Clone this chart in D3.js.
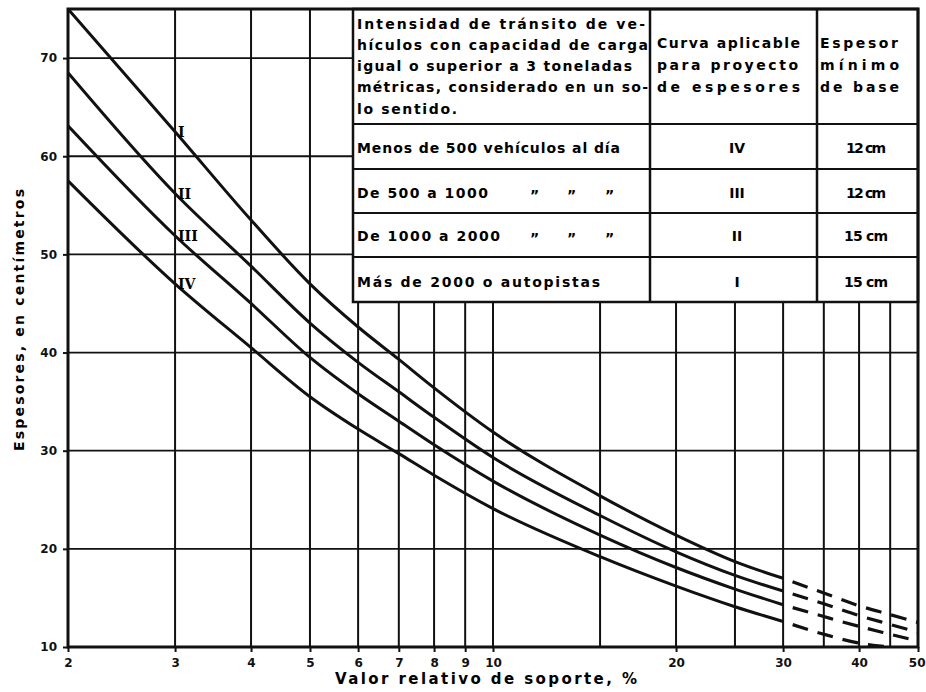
<!DOCTYPE html>
<html lang="es">
<head>
<meta charset="UTF-8">
<title>Espesores de base</title>
<script src="https://cdnjs.cloudflare.com/ajax/libs/d3/7.8.5/d3.min.js"></script>
<style>
  body { margin: 0; background: #fff; }
  svg { display: block; font-family: "DejaVu Sans", sans-serif; font-weight: bold; }
</style>
</head>
<body>
<div id="chart"></div>
<script>
// valores (VRS en %, espesor en cm)
const vrs = [2, 3, 4, 5, 6, 7, 8, 10, 15, 20, 25, 30];
const curvaI = [75, 62.5, 53.5, 47, 42.6, 39.3, 36.4, 31.9, 25.4, 21.4, 18.7, 17.0];
const curvaII = [68.5, 56.2, 48.8, 43.0, 39.0, 36.0, 33.4, 29.3, 23.4, 19.7, 17.3, 15.7];
const curvaIII = [63.1, 51.9, 45.0, 39.5, 35.8, 33.0, 30.6, 26.9, 21.4, 18.1, 15.9, 14.3];
const curvaIV = [57.5, 47.0, 40.5, 35.5, 32.2, 29.7, 27.5, 24.1, 19.2, 16.2, 14.1, 12.6];

// tramo punteado
const vrsExt = [30, 35, 40, 45, 50];
const extI = [17.0, 15.5, 14.2, 13.3, 12.5];
const extII = [15.7, 14.4, 13.2, 12.3, 11.5];
const extIII = [14.3, 13.1, 12.1, 11.3, 10.6];
const extIV = [12.6, 11.3, 10.4, 10.0];

const nombres = ["I", "II", "III", "IV"];

const xTicks = [2, 3, 4, 5, 6, 7, 8, 9, 10, 20, 30, 40, 50];
const xGrid = [3, 4, 5, 6, 7, 8, 9, 10, 15, 20, 25, 30, 35, 40, 45];
const yTicks = [10, 20, 30, 40, 50, 60, 70];

// tabla
const encabezado1 = ["Intensidad de tránsito de ve-", "hículos con capacidad de carga",
  "igual o superior a 3 toneladas", "métricas, considerado en un so-", "lo sentido."];
const encabezado2 = ["Curva aplicable", "para proyecto", "de espesores"];
const encabezado3 = ["Espesor", "mínimo", "de base"];
const transito = ["Menos de 500 vehículos al día", "De 500 a 1000", "De 1000 a 2000", "Más de 2000 o autopistas"];
const curvaAplicable = ["IV", "III", "II", "I"];
const espesorMinimo = ["12 cm", "12 cm", "15 cm", "15 cm"];

const width = 926, height = 692;
const mLeft = 68, mRight = 918, mTop = 9, mBottom = 647;

const x = d3.scaleLog().domain([2, 50]).range([mLeft, mRight]);
const y = d3.scaleLinear().domain([10, 75]).range([mBottom, mTop]);

const svg = d3.select("#chart").append("svg")
    .attr("width", width)
    .attr("height", height);

svg.append("clipPath").attr("id", "plot")
  .append("rect").attr("x", mLeft).attr("y", mTop).attr("width", mRight - mLeft).attr("height", mBottom - mTop);

// reticula
svg.append("g").selectAll("line")
  .data(xGrid).enter().append("line")
    .attr("x1", d => x(d)).attr("x2", d => x(d))
    .attr("y1", mTop).attr("y2", mBottom)
    .attr("stroke", "#111").attr("stroke-width", 2);

svg.append("g").selectAll("line")
  .data(yTicks.slice(1)).enter().append("line")
    .attr("x1", mLeft).attr("x2", mRight)
    .attr("y1", d => y(d)).attr("y2", d => y(d))
    .attr("stroke", "#111").attr("stroke-width", 1.8);

// tabla sobre la reticula
const tL = 353, tR = mRight, tT = mTop, c1 = 650, c2 = 817;
const filas = [124, 169, 213, 257, 302];
const tabla = svg.append("g");
tabla.append("rect")
    .attr("x", tL).attr("y", tT).attr("width", tR - tL).attr("height", filas[4] - tT)
    .attr("fill", "#fff").attr("stroke", "#111").attr("stroke-width", 2.5);
tabla.selectAll("line.h").data(filas.slice(0, 4)).enter().append("line")
    .attr("x1", tL).attr("x2", tR).attr("y1", d => d).attr("y2", d => d)
    .attr("stroke", "#111").attr("stroke-width", 2);
tabla.selectAll("line.v").data([c1, c2]).enter().append("line")
    .attr("x1", d => d).attr("x2", d => d).attr("y1", tT).attr("y2", filas[4])
    .attr("stroke", "#111").attr("stroke-width", 2.5);

function linea(g, txt, px, py, len, anchor) {
  const t = g.append("text")
    .attr("x", px).attr("y", py)
    .attr("font-size", 14)
    .attr("text-anchor", anchor || "start")
    .text(txt);
  if (len) t.attr("textLength", len).attr("lengthAdjust", "spacing");
  return t;
}

const base1 = [29, 50, 71, 92, 114];
const largo1 = [288, 291, 275, 291, 100];
encabezado1.forEach((s, i) => linea(tabla, s, 357, base1[i], largo1[i]));
const largo2 = [143, 141, 143];
encabezado2.forEach((s, i) => linea(tabla, s, 657, [48, 70, 92][i], largo2[i]));
const largo3 = [78, 79, 79];
encabezado3.forEach((s, i) => linea(tabla, s, 820, [48, 70, 92][i], largo3[i]));

const baseFila = [153, 198, 241, 287];
const largoFila = [263, 131, 143, 243];
transito.forEach((s, i) => linea(tabla, s, 357, baseFila[i], largoFila[i]));
[1, 2].forEach(i => [530, 567, 605].forEach(px => linea(tabla, "\u201D", px, baseFila[i] + 2)));
curvaAplicable.forEach((s, i) => linea(tabla, s, 737, baseFila[i], null, "middle"));
espesorMinimo.forEach((s, i) => linea(tabla, s, 866, baseFila[i], i < 2 ? 40 : 44, "middle"));

// curvas
const line = d3.line()
    .x(d => x(d[0]))
    .y(d => y(d[1]))
    .curve(d3.curveMonotoneX);

const series = [curvaI, curvaII, curvaIII, curvaIV];
const extensiones = [extI, extII, extIII, extIV];
const curvas = svg.append("g").attr("clip-path", "url(#plot)");

series.forEach((s, k) => {
  curvas.append("path")
    .attr("d", line(vrs.map((v, i) => [v, s[i]])))
    .attr("fill", "none").attr("stroke", "#111").attr("stroke-width", 3);
  curvas.append("path")
    .attr("d", line(extensiones[k].map((e, i) => [vrsExt[i], e])))
    .attr("fill", "none").attr("stroke", "#111").attr("stroke-width", 3.2)
    .attr("stroke-dasharray", "16 10").attr("stroke-dashoffset", 16);
});

// numeros romanos junto a VRS = 3
svg.append("g").selectAll("text")
  .data(nombres).enter().append("text")
    .attr("x", x(3) + 3)
    .attr("y", (d, k) => y(series[k][1]) + 5)
    .attr("font-family", "'DejaVu Serif', serif")
    .attr("font-size", 14)
    .text(d => d);

// marco
svg.append("rect")
    .attr("x", mLeft).attr("y", mTop).attr("width", mRight - mLeft).attr("height", mBottom - mTop)
    .attr("fill", "none").attr("stroke", "#111").attr("stroke-width", 3);

// ejes
const xAxis = svg.append("g")
    .attr("transform", `translate(0,${mBottom})`)
    .call(d3.axisBottom(x).tickValues(xTicks).tickFormat(d3.format("d")).tickSize(5).tickPadding(6));
const yAxis = svg.append("g")
    .attr("transform", `translate(${mLeft},0)`)
    .call(d3.axisLeft(y).tickValues(yTicks).tickSize(5).tickPadding(6));

[xAxis, yAxis].forEach(a => {
  a.select(".domain").remove();
  a.selectAll("line").attr("stroke", "#111").attr("stroke-width", 2);
  a.selectAll("text").attr("font-family", "'DejaVu Sans', sans-serif")
    .attr("font-weight", "bold").attr("font-size", 12).attr("fill", "#111");
});
// la ultima etiqueta queda pegada al borde derecho
xAxis.selectAll("text").filter(d => d === 50)
    .attr("text-anchor", "end").attr("dx", 7);

svg.append("text")
    .attr("x", 335).attr("y", 684)
    .attr("font-size", 15)
    .attr("textLength", 302).attr("lengthAdjust", "spacing")
    .text("Valor relativo de soporte, %");

svg.append("text")
    .attr("transform", "translate(24,451) rotate(-90)")
    .attr("font-size", 14)
    .attr("textLength", 262).attr("lengthAdjust", "spacing")
    .text("Espesores, en centímetros");
</script>
</body>
</html>
